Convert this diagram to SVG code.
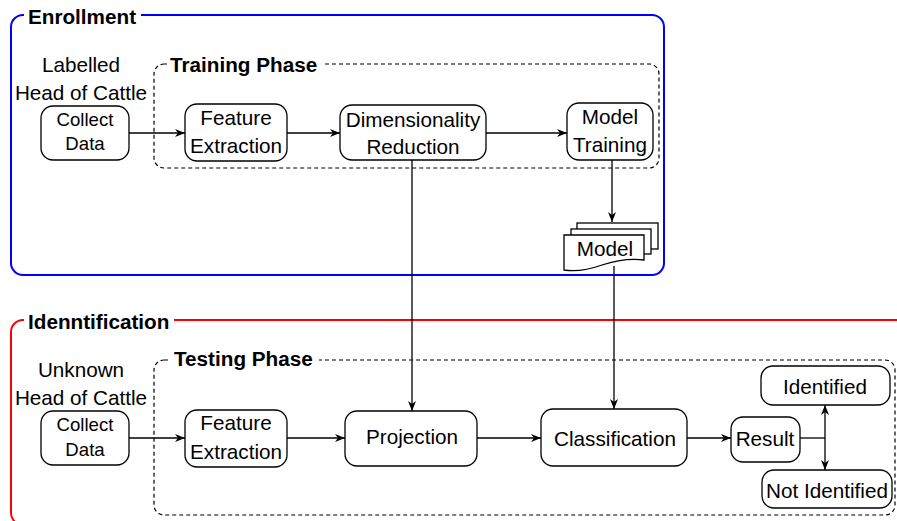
<svg xmlns="http://www.w3.org/2000/svg" width="897" height="521" viewBox="0 0 897 521">
<defs>
<marker id="arr" viewBox="0 0 10 8" refX="10" refY="4" markerWidth="10" markerHeight="8" markerUnits="userSpaceOnUse" orient="auto">
<path d="M0,0 L10,4 L0,8 L3,4 z" fill="#000"/>
</marker>
<style>
text{font-family:"Liberation Sans",Arial,sans-serif;fill:#000}
.t{font-size:20.7px;text-anchor:middle}
.s{font-size:18.6px;text-anchor:middle}
.b{font-size:20.7px;font-weight:bold}
.node{fill:#fff;stroke:#000;stroke-width:1.3}
.dash{fill:none;stroke:#000;stroke-width:1.2;stroke-dasharray:4 3}
.con{fill:none;stroke:#000;stroke-width:1.3}
.bg{fill:#fff}
</style>
</defs>
<rect width="897" height="521" fill="#fff"/>

<g id="enrollment">
<rect x="11" y="15" width="653" height="260" rx="12" fill="none" stroke="#0000ff" stroke-width="2"/>
<rect class="bg" x="24" y="4" width="117" height="24"/>
<text class="b" x="28" y="24">Enrollment</text>
</g>
<g id="training-phase">
<rect class="dash" x="154" y="64" width="505" height="104" rx="10"/>
<rect class="bg" x="167" y="52" width="155" height="24"/>
<text class="b" x="170" y="72">Training Phase</text>
</g>
<g id="identification">
<rect x="11" y="320" width="900" height="205" rx="12" fill="none" stroke="#ff0000" stroke-width="2"/>
<rect class="bg" x="24" y="308" width="150" height="24"/>
<text class="b" x="28" y="329">Idenntification</text>
</g>
<g id="testing-phase">
<rect class="dash" x="154" y="360" width="741" height="155" rx="10"/>
<rect class="bg" x="170" y="347" width="149" height="25"/>
<text class="b" x="174" y="366">Testing Phase</text>
</g>

<g id="label-labelled">
<text class="t" x="81" y="72">Labelled</text>
<text class="t" x="81" y="100">Head of Cattle</text>
</g>
<g id="label-unknown">
<text class="t" x="81" y="377">Unknown</text>
<text class="t" x="81" y="405">Head of Cattle</text>
</g>

<g id="connectors">
<path class="con" marker-end="url(#arr)" d="M129,133 H185"/>
<path class="con" marker-end="url(#arr)" d="M287,133 H340"/>
<path class="con" marker-end="url(#arr)" d="M486,133 H567"/>
<path class="con" marker-end="url(#arr)" d="M612,160 V222"/>
<path class="con" marker-end="url(#arr)" d="M412,160 V411"/>
<path class="con" marker-end="url(#arr)" d="M614,266 V409"/>
<path class="con" marker-end="url(#arr)" d="M129,438 H185"/>
<path class="con" marker-end="url(#arr)" d="M287,438 H345"/>
<path class="con" marker-end="url(#arr)" d="M477,438 H541"/>
<path class="con" marker-end="url(#arr)" d="M687,438 H731"/>
<path class="con" d="M800,438 H825"/>
<path class="con" marker-end="url(#arr)" d="M825,438 V405"/>
<path class="con" marker-end="url(#arr)" d="M825,438 V470"/>
</g>

<g id="collect-data-1">
<rect class="node" x="41" y="106" width="88" height="54" rx="12"/>
<text class="s" x="85" y="126">Collect</text>
<text class="s" x="85" y="150">Data</text>
</g>
<g id="feature-extraction-1">
<rect class="node" x="185" y="104" width="102" height="57" rx="12"/>
<text class="t" x="236" y="125">Feature</text>
<text class="t" x="236" y="153">Extraction</text>
</g>
<g id="dimensionality-reduction">
<rect class="node" x="340" y="105" width="146" height="55" rx="12"/>
<text class="t" x="413" y="127">Dimensionality</text>
<text class="t" x="413" y="154">Reduction</text>
</g>
<g id="model-training">
<rect class="node" x="567" y="103" width="86" height="57" rx="12"/>
<text class="t" x="610" y="124">Model</text>
<text class="t" x="610" y="152">Training</text>
</g>
<g id="model">
<rect class="node" x="577" y="223" width="81" height="26"/>
<rect class="node" x="571" y="229" width="80" height="25"/>
<path class="node" d="M564,235 H644 V260 C628,258 614,261 602,265 C588,270 576,272 564,270 Z"/>
<text class="t" x="605" y="256">Model</text>
</g>

<g id="collect-data-2">
<rect class="node" x="41" y="411" width="88" height="54" rx="12"/>
<text class="s" x="85" y="431">Collect</text>
<text class="s" x="85" y="456">Data</text>
</g>
<g id="feature-extraction-2">
<rect class="node" x="185" y="410" width="102" height="57" rx="12"/>
<text class="t" x="236" y="430">Feature</text>
<text class="t" x="236" y="459">Extraction</text>
</g>
<g id="projection">
<rect class="node" x="345" y="411" width="132" height="55" rx="12"/>
<text class="t" x="412" y="444">Projection</text>
</g>
<g id="classification">
<rect class="node" x="541" y="409" width="146" height="57" rx="12"/>
<text class="t" x="615" y="446">Classification</text>
</g>
<g id="result">
<rect class="node" x="731" y="417" width="69" height="45" rx="12"/>
<text class="t" x="765" y="446">Result</text>
</g>
<g id="identified">
<rect class="node" x="761" y="366" width="129" height="39" rx="12"/>
<text class="t" x="825" y="394">Identified</text>
</g>
<g id="not-identified">
<rect class="node" x="762" y="470" width="130" height="38" rx="12"/>
<text class="t" x="827" y="498">Not Identified</text>
</g>
</svg>
